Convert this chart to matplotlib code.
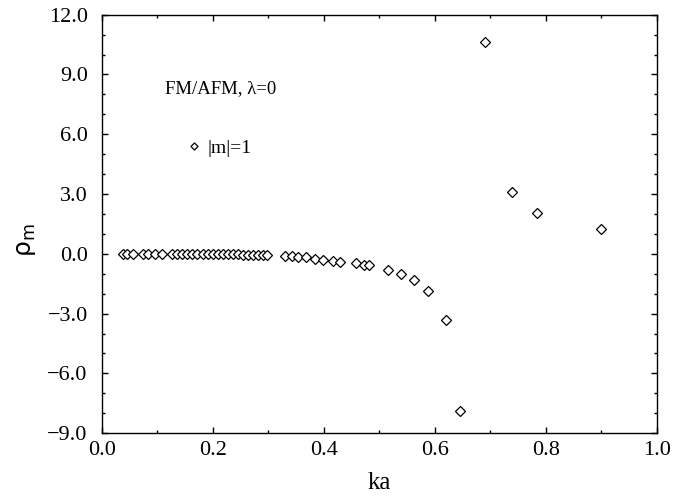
import matplotlib
matplotlib.use("Agg")
import matplotlib.pyplot as plt
from matplotlib.ticker import MultipleLocator, FuncFormatter

# data
ka = [0.038, 0.046, 0.057, 0.075, 0.084, 0.096, 0.108, 0.126, 0.135, 0.144,
      0.153, 0.162, 0.171, 0.182, 0.192, 0.201, 0.210, 0.219, 0.228, 0.237,
      0.246, 0.255, 0.264, 0.273, 0.282, 0.290, 0.297,
      0.330, 0.342, 0.354, 0.368, 0.384, 0.399, 0.416, 0.429,
      0.458, 0.473, 0.482, 0.516, 0.539, 0.562, 0.587, 0.620, 0.646,
      0.690, 0.740, 0.785, 0.900]
rho_m = [0.00, 0.00, 0.00, 0.00, 0.00, 0.00, -0.01, -0.01, -0.01, -0.01,
         -0.01, -0.01, -0.02, -0.02, -0.02, -0.02, -0.02, -0.03, -0.03, -0.03,
         -0.03, -0.04, -0.04, -0.05, -0.05, -0.06, -0.06,
         -0.10, -0.12, -0.15, -0.18, -0.26, -0.30, -0.36, -0.40,
         -0.48, -0.55, -0.58, -0.82, -1.02, -1.32, -1.86, -3.34, -7.88,
         10.63, 3.10, 2.04, 1.27]

title_text = "FM/AFM, λ=0"
series_label = "|m|=1"

plt.rcParams["font.family"] = ["Liberation Serif", "DejaVu Serif"]


def fmt(v, pos):
    # one decimal, real minus sign
    return f"{v:.1f}".replace("-", "\u2212")


fig = plt.figure(figsize=(6.73, 4.99), dpi=100)
ax = fig.add_axes([0.151, 0.132, 0.825, 0.8385])

ax.plot(ka, rho_m, linestyle="none", marker="D", markersize=4.8,
        markerfacecolor="white", markeredgecolor="black",
        markeredgewidth=0.9, label=series_label)

ax.set_xlim(0.0, 1.0)
ax.set_ylim(-9.0, 12.0)
ax.xaxis.set_major_locator(MultipleLocator(0.2))
ax.xaxis.set_minor_locator(MultipleLocator(0.1))
ax.yaxis.set_major_locator(MultipleLocator(3.0))
ax.yaxis.set_minor_locator(MultipleLocator(1.0))
ax.xaxis.set_major_formatter(FuncFormatter(fmt))
ax.yaxis.set_major_formatter(FuncFormatter(fmt))
ax.tick_params(which="both", direction="in", top=True, right=True,
               labelsize=16, width=1.0)
ax.tick_params(which="major", length=4.5)
ax.tick_params(which="minor", length=2.5)
ax.tick_params(axis="x", which="major", pad=6)
ax.tick_params(axis="y", which="major", pad=10)
for sp in ax.spines.values():
    sp.set_linewidth(1.0)

ax.set_xlabel("ka", fontsize=18, labelpad=8)
ax.set_ylabel("ρ$_\\mathregular{m}$", fontsize=18,
              family=["DejaVu Sans"])
ax.yaxis.set_label_coords(-0.115, 0.46)

ax.text(0.115, 8.3, title_text, fontsize=13.5, va="center", ha="left")

leg = ax.legend(loc="center left", bbox_to_anchor=(0.128, 0.682), frameon=False,
                fontsize=14, handlelength=0.8, handletextpad=0.3,
                markerscale=0.75, borderpad=0.2)

fig.savefig("out.png", dpi=100)
